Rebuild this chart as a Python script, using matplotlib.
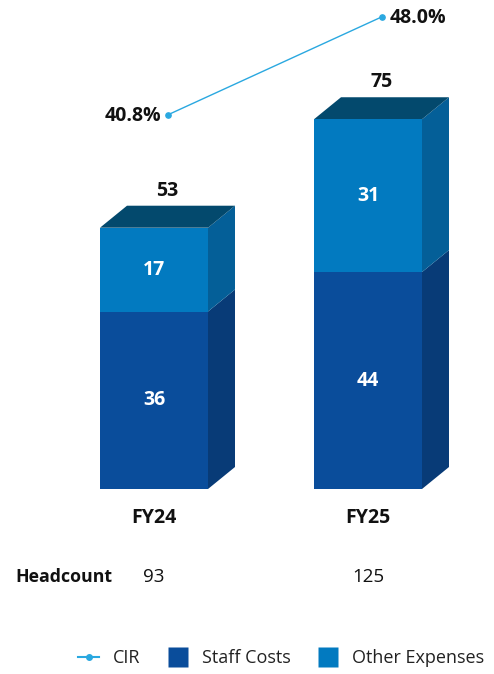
import matplotlib
matplotlib.use("Agg")
import matplotlib.pyplot as plt
from matplotlib.patches import Polygon
from matplotlib.lines import Line2D

plt.rcParams['font.family'] = ['Open Sans', 'DejaVu Sans']

# data
years = ["FY24", "FY25"]
staff_costs = [36, 44]
other_expenses = [17, 31]
totals = [53, 75]
cir = [40.8, 48.0]
headcount = [93, 125]

# colours
staff_front = "#0A4D9B"
staff_side = "#083B77"
other_front = "#027AC0"
other_side = "#045F98"
top_face = "#03496D"
cir_color = "#2AA8E0"
ink = "#111111"
heavy = "bold"

W, H, DPI = 494, 674, 100
fig = plt.figure(figsize=(W / DPI, H / DPI), dpi=DPI)
ax = fig.add_axes([0, 0, 1, 1])
ax.axis("off")

# scales: pixels per category step and per value unit
px_x = 214.0
px_y = 4.93
x_left_px, zero_px = 154.0, 489.0
ax.set_xlim(-x_left_px / px_x, (W - x_left_px) / px_x)
ax.set_ylim(-(H - zero_px) / px_y, zero_px / px_y)

bar_w = 108 / px_x
dx = 27 / px_x        # extrusion depth, x data units
dy = 22 / px_y        # extrusion depth, y data units

xs = list(range(len(years)))
b1 = ax.bar(xs, staff_costs, width=bar_w, color=staff_front, zorder=3)
b2 = ax.bar(xs, other_expenses, width=bar_w, bottom=staff_costs,
            color=other_front, zorder=3)

for i, x in enumerate(xs):
    x0, x1 = x - bar_w / 2, x + bar_w / 2
    segs = [(0, staff_costs[i], staff_side),
            (staff_costs[i], staff_costs[i] + other_expenses[i], other_side)]
    for lo, hi, col in segs:
        ax.add_patch(Polygon([(x1, lo), (x1 + dx, lo + dy), (x1 + dx, hi + dy), (x1, hi)],
                             closed=True, facecolor=col, edgecolor="none", zorder=2))
    top = staff_costs[i] + other_expenses[i]
    ax.add_patch(Polygon([(x0, top), (x0 + dx, top + dy), (x1 + dx, top + dy), (x1, top)],
                         closed=True, facecolor=top_face, edgecolor="none", zorder=2))
    # total above the block
    ax.annotate(str(totals[i]), xy=(x + dx / 2, top + dy), xytext=(0, 3.5),
                textcoords="offset points", ha="center", va="bottom",
                fontsize=14, fontweight=heavy, color=ink)
    # category label
    ax.annotate(years[i], xy=(x, 0), xytext=(0, -21), textcoords="offset points",
                ha="center", va="center", fontsize=14, fontweight=heavy, color=ink)
    # headcount values
    ax.annotate(str(headcount[i]), xy=(x, 0), xytext=(0, -63.5), textcoords="offset points",
                ha="center", va="center", fontsize=13.5, color=ink)

ax.bar_label(b1, labels=[str(v) for v in staff_costs], label_type="center",
             color="white", fontsize=14, fontweight=heavy)
ax.bar_label(b2, labels=[str(v) for v in other_expenses], label_type="center",
             color="white", fontsize=14, fontweight=heavy)

fig.text(15 / W, 1 - 577 / H, "Headcount", ha="left", va="center",
         fontsize=12.8, fontweight=heavy, color=ink)

# CIR line on its own value axis
ax2 = ax.twinx()
ax2.axis("off")
px_pct = 13.61
anchor_px = 115.0
ax2.set_ylim(cir[0] - (H - anchor_px) / px_pct, cir[0] + anchor_px / px_pct)
cir_x = [x + dx / 2 for x in xs]
ax2.plot(cir_x, cir, color=cir_color, lw=1.0, marker="o", markersize=3.8, zorder=5)
ax2.annotate(f"{cir[0]:.1f}%", xy=(cir_x[0], cir[0]), xytext=(-4.5, -0.5),
             textcoords="offset points", ha="right", va="center",
             fontsize=14, fontweight=heavy, color=ink)
ax2.annotate(f"{cir[1]:.1f}%", xy=(cir_x[1], cir[1]), xytext=(6.0, -0.5),
             textcoords="offset points", ha="left", va="center",
             fontsize=14, fontweight=heavy, color=ink)

handles = [
    Line2D([], [], color=cir_color, lw=1.5, marker="o", markersize=4),
    Line2D([], [], color="none", marker="s", markersize=15, markerfacecolor=staff_front,
           markeredgecolor="none"),
    Line2D([], [], color="none", marker="s", markersize=15, markerfacecolor=other_front,
           markeredgecolor="none"),
]
fig.legend(handles, ["CIR", "Staff Costs", "Other Expenses"], ncol=3,
           loc="center", bbox_to_anchor=(281 / W, 1 - 658 / H), frameon=False,
           fontsize=13, handlelength=1.2, handletextpad=0.75, columnspacing=1.45,
           labelcolor="#222222")

fig.savefig("out.png", dpi=DPI)
